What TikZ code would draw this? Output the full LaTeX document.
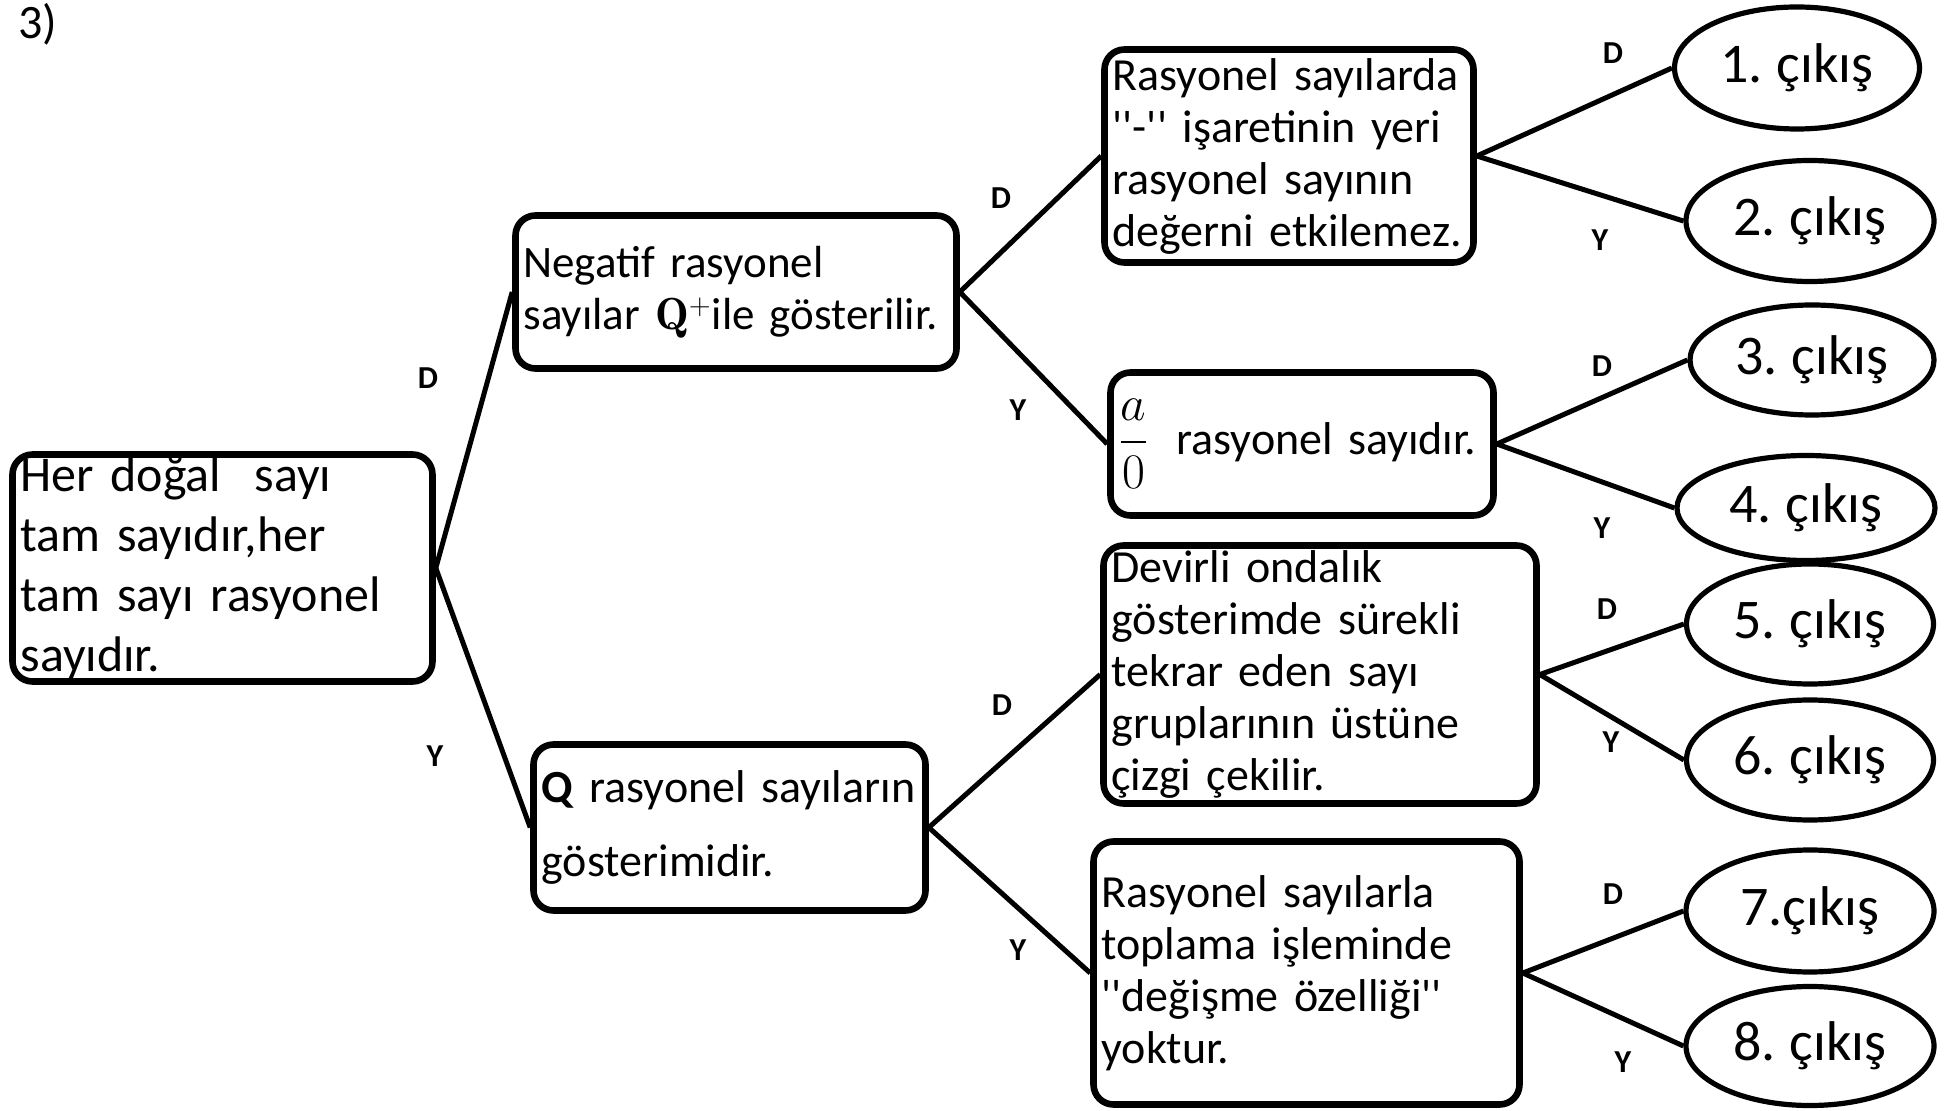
\documentclass[tikz,border=0pt]{standalone}
\usepackage{amsmath}
\usepackage{fontspec}
\newfontfamily\calibri{Carlito}[WordSpace=0.75]
\usetikzlibrary{shapes.geometric}

\begin{document}
\begin{tikzpicture}[x=0.5pt,y=-0.5pt,
  box/.style={draw,line width=3.3pt,rounded corners=10pt,align=left,inner xsep=4pt,inner ysep=0pt,
    font=\calibri\fontsize{23pt}{26pt}\selectfont},
  exit/.style={draw,ellipse,line width=2.6pt,inner sep=0pt,font=\calibri\fontsize{28pt}{32pt}\selectfont},
  dy/.style={font=\calibri\bfseries\fontsize{16pt}{18pt}\selectfont},
  conn/.style={line width=2.5pt}]
  \useasboundingbox (0,0) rectangle (1953,1111);
  \node[anchor=north west,inner sep=0pt,font=\calibri\fontsize{24pt}{28pt}\selectfont] (num) at (18,3) {3)};
  % question boxes
  \node[box,text width=202pt,minimum height=113.5pt,font=\calibri\fontsize{25pt}{30pt}\selectfont] (root) at (222.5,568)
    {Her doğal~ sayı\\tam sayıdır,her\\tam sayı rasyonel\\sayıdır.};
  \node[box,text width=212.5pt,minimum height=76.5pt,font=\calibri\fontsize{22.5pt}{26pt}\selectfont] (neg) at (736,292)
    {Negatif rasyonel\\sayılar $\mathbf{Q}^{+}$ile gösterilir.};
  \node[box,text width=188pt,minimum height=83pt,font=\calibri\fontsize{23pt}{37pt}\selectfont] (qbox) at (729.5,827.5)
    {\textbf{Q} rasyonel sayıların\\gösterimidir.};
  \node[box,text width=176.5pt,minimum height=106.5pt] (b1) at (1289,156)
    {Rasyonel sayılarda\\''-'' işaretinin yeri\\rasyonel sayının\\değerni etkilemez.};
  \node[box,text width=183.5pt,minimum height=71.5pt] (b2) at (1302,444)
    {$\dfrac{a}{0}$\hspace{0.6em}rasyonel sayıdır.};
  \node[box,text width=208.5pt,minimum height=129pt] (b3) at (1320,674.5)
    {Devirli ondalık\\gösterimde sürekli\\tekrar eden sayı\\gruplarının üstüne\\çizgi çekilir.};
  \node[box,text width=205pt,minimum height=131.5pt] (b4) at (1306.5,973)
    {Rasyonel sayılarla\\toplama işleminde\\''değişme özelliği''\\yoktur.};
  % exits
  \node[exit,minimum width=122.5pt,minimum height=61pt] (e1) at (1797,68) {1. çıkış};
  \node[exit,minimum width=124pt,minimum height=60.5pt] (e2) at (1810,221) {2. çıkış};
  \node[exit,minimum width=122pt,minimum height=55pt] (e3) at (1812,360) {3. çıkış};
  \node[exit,minimum width=129pt,minimum height=52.5pt] (e4) at (1806,508) {4. çıkış};
  \node[exit,minimum width=123.5pt,minimum height=60pt] (e5) at (1810,624) {5. çıkış};
  \node[exit,minimum width=123.5pt,minimum height=60pt] (e6) at (1810,760) {6. çıkış};
  \node[exit,minimum width=124pt,minimum height=61pt] (e7) at (1810,911) {7.çıkış};
  \node[exit,minimum width=124pt,minimum height=59.5pt] (e8) at (1810,1046) {8. çıkış};
  % branches
  \draw[conn] (root.east) -- (neg.west);
  \draw[conn] (root.east) -- (qbox.west);
  \draw[conn] (neg.east) -- (b1.west);
  \draw[conn] (neg.east) -- (b2.west);
  \draw[conn] (qbox.east) -- (b3.west);
  \draw[conn] (qbox.east) -- (b4.west);
  \draw[conn] (b1.east) -- (e1.west);
  \draw[conn] (b1.east) -- (e2.west);
  \draw[conn] (b2.east) -- (e3.west);
  \draw[conn] (b2.east) -- (e4.west);
  \draw[conn] (b3.east) -- (e5.west);
  \draw[conn] (b3.east) -- (e6.west);
  \draw[conn] (b4.east) -- (e7.west);
  \draw[conn] (b4.east) -- (e8.west);
  % D / Y labels
  \node[dy] (d1) at (428,378) {D};
  \node[dy] (y1) at (435,756) {Y};
  \node[dy] (d2) at (1001,198) {D};
  \node[dy] (y2) at (1018,410) {Y};
  \node[dy] (d3) at (1002,705) {D};
  \node[dy] (y3) at (1018,950) {Y};
  \node[dy] (d4) at (1613,53) {D};
  \node[dy] (y4) at (1600,240) {Y};
  \node[dy] (d5) at (1602,366) {D};
  \node[dy] (y5) at (1602,528) {Y};
  \node[dy] (d6) at (1607,609) {D};
  \node[dy] (y6) at (1611,742) {Y};
  \node[dy] (d7) at (1613,894) {D};
  \node[dy] (y7) at (1623,1062) {Y};
\end{tikzpicture}
\end{document}
